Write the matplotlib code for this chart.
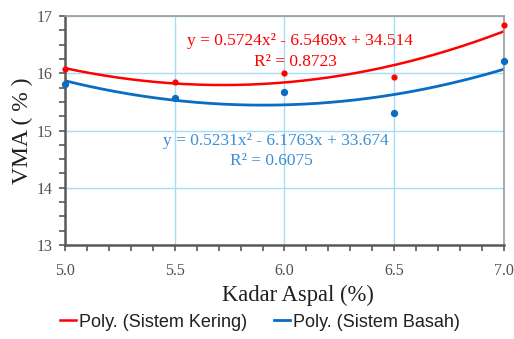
import numpy as np
import matplotlib.pyplot as plt
from matplotlib.ticker import MultipleLocator

kadar = [5.0, 5.5, 6.0, 6.5, 7.0]
vma_kering = [16.07, 15.84, 16.00, 15.93, 16.84]
vma_basah = [15.82, 15.56, 15.67, 15.30, 16.21]

# trendline coefficients as printed on the chart
coef_kering = [0.5724, -6.5469, 34.514]
coef_basah = [0.5231, -6.1763, 33.674]
r2_kering = 0.8723
r2_basah = 0.6075

red = '#ff0000'
blue = '#0a6cc2'
blue_txt = '#3d8fd6'
serif = 'Liberation Serif'

fig = plt.figure(figsize=(5.14, 3.39), dpi=100)
ax = fig.add_axes([0.126, 0.277, 0.855, 0.676])

xs = np.linspace(5.0, 7.0, 200)
ax.plot(xs, np.polyval(coef_kering, xs), color=red, lw=1.8, label='Poly. (Sistem Kering)')
ax.plot(xs, np.polyval(coef_basah, xs), color=blue, lw=2.0, label='Poly. (Sistem Basah)')
ax.scatter(kadar, vma_kering, s=12, color=red, zorder=3, clip_on=False)
ax.scatter(kadar, vma_basah, s=18, color=blue, zorder=3, clip_on=False)

ax.set_xlim(5.0, 7.0)
ax.set_ylim(13, 17)
ax.xaxis.set_major_locator(MultipleLocator(0.5))
ax.xaxis.set_minor_locator(MultipleLocator(0.1))
ax.yaxis.set_major_locator(MultipleLocator(1))
ax.yaxis.set_minor_locator(MultipleLocator(0.25))
ax.set_xticklabels([f'{v:.1f}' for v in ax.get_xticks()])
ax.grid(True, which='major', color='#a8dcf5', lw=1.0)
ax.set_axisbelow(True)

ax.tick_params(which='both', direction='out', length=4, width=1.2, color='#595959',
               labelsize=11.5, labelcolor='#505050')
ax.tick_params(axis='x', pad=9)
ax.tick_params(axis='y', pad=5)
for lab in ax.get_xticklabels() + ax.get_yticklabels():
    lab.set_family(serif)

for s in ['left', 'bottom']:
    ax.spines[s].set_color('#595959')
    ax.spines[s].set_linewidth(1.8)
for s in ['top', 'right']:
    ax.spines[s].set_color('#9a9a9a')
    ax.spines[s].set_linewidth(1.2)

ax.set_xlabel('Kadar Aspal (%)', family=serif, fontsize=16.3, color='#202020')
ax.xaxis.set_label_coords(0.531, -0.175)
ax.set_ylabel('VMA ( % )', family=serif, fontsize=17, color='#202020', labelpad=2)

def eq_text(c):
    return f'y = {c[0]:.4f}x² - {-c[1]:.4f}x + {c[2]:.3f}'

fs_eq = 12.5
ax.text(6.07, 16.57, eq_text(coef_kering), color=red, family=serif, fontsize=fs_eq,
        ha='center', va='center')
ax.text(6.05, 16.19, f'R² = {r2_kering:.4f}', color=red, family=serif, fontsize=fs_eq,
        ha='center', va='center')
ax.text(5.96, 14.81, eq_text(coef_basah), color=blue_txt, family=serif, fontsize=fs_eq,
        ha='center', va='center')
ax.text(5.94, 14.46, f'R² = {r2_basah:.4f}', color=blue_txt, family=serif, fontsize=fs_eq,
        ha='center', va='center')

fig.legend(loc='center', bbox_to_anchor=(0.505, 0.05), ncol=2, frameon=False,
           prop={'family': 'Liberation Sans', 'size': 13}, handlelength=0.9,
           handletextpad=0.15, columnspacing=1.5, labelcolor='#202020')

fig.savefig('out.png', dpi=100)
